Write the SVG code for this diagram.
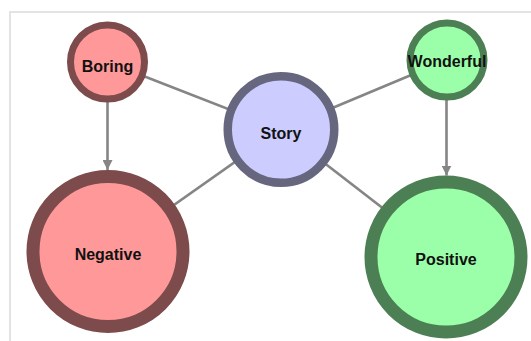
<svg xmlns="http://www.w3.org/2000/svg" width="531" height="341" viewBox="0 0 531 341">
<style>
.edge{stroke:#858585;stroke-width:2.6;fill:none}
.neg circle{fill:#ff9999;stroke:#7d4b4b}
.pos circle{fill:#9affa8;stroke:#4c7f54}
.story circle{fill:#ccccff;stroke:#66667f}
text{font-family:"Liberation Sans",Arial,sans-serif;font-weight:bold;font-size:16px;fill:#111;text-anchor:middle}
</style>
<defs>
<marker id="arrow" viewBox="0 0 10 10" refX="10" refY="5" markerWidth="10" markerHeight="10" markerUnits="userSpaceOnUse" orient="auto">
<path d="M0,0 L10,5 L0,10 z" fill="#858585"/>
</marker>
</defs>
<rect x="10" y="12" width="540" height="340" fill="none" stroke="#e3e3e3" stroke-width="2"/>
<g id="connectors">
<line class="edge" x1="107.5" y1="62" x2="281" y2="129.5"/>
<line class="edge" x1="447" y1="60" x2="281" y2="129.5"/>
<line class="edge" x1="281" y1="129.5" x2="108" y2="251.5"/>
<line class="edge" x1="281" y1="129.5" x2="446" y2="257"/>
<line class="edge" x1="107.5" y1="102" x2="107.5" y2="170" marker-end="url(#arrow)"/>
<line class="edge" x1="446.5" y1="100" x2="446.5" y2="175.5" marker-end="url(#arrow)"/>
</g>
<g id="node-boring" class="neg">
<circle cx="107.5" cy="62" r="37" stroke-width="7"/>
<text x="107.5" y="71.5">Boring</text>
</g>
<g id="node-wonderful" class="pos">
<circle cx="447" cy="60" r="37" stroke-width="7"/>
<text x="447" y="67">Wonderful</text>
</g>
<g id="node-story" class="story">
<circle cx="281" cy="129.5" r="53.25" stroke-width="8.5"/>
<text x="281" y="139">Story</text>
</g>
<g id="node-negative" class="neg">
<circle cx="108" cy="251.5" r="75" stroke-width="13"/>
<text x="108" y="259.5">Negative</text>
</g>
<g id="node-positive" class="pos">
<circle cx="446" cy="257" r="75" stroke-width="13"/>
<text x="446" y="264.5">Positive</text>
</g>
</svg>
